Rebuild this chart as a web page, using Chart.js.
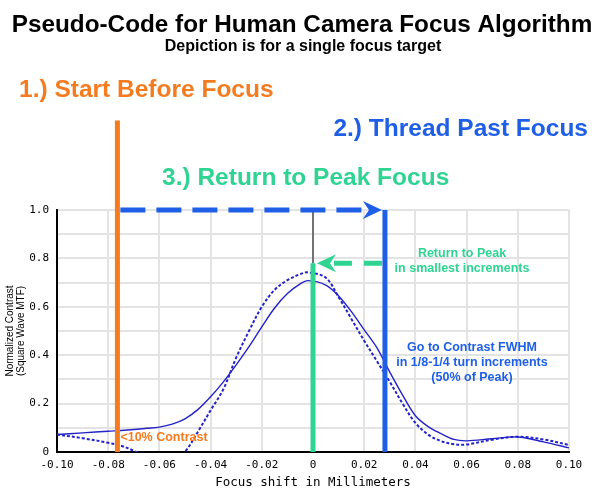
<!DOCTYPE html>
<html>
<head>
<meta charset="utf-8">
<title>Pseudo-Code for Human Camera Focus Algorithm</title>
<script src="https://cdn.jsdelivr.net/npm/chart.js@4.4.1/dist/chart.umd.min.js"></script>
<style>
  body { margin: 0; background: #fff; }
  #wrap { width: 600px; height: 500px; }
</style>
</head>
<body>
<div id="wrap"><canvas id="focusChart" width="600" height="500"></canvas></div>
<script>
// focus shift (mm) where both MTF curves are sampled
const focusShift = [-0.10, -0.09, -0.08, -0.075, -0.07, -0.065, -0.06, -0.055, -0.05, -0.045, -0.04, -0.035, -0.03,
  -0.025, -0.02, -0.015, -0.01, -0.005, -0.002, 0.005, 0.01, 0.015, 0.02, 0.025, 0.03, 0.035, 0.04,
  0.045, 0.05, 0.055, 0.06, 0.07, 0.08, 0.09, 0.10];

// solid curve
const contrastSolid = [0.072, 0.079, 0.086, 0.089, 0.093, 0.098, 0.103, 0.115, 0.137, 0.175, 0.228, 0.29, 0.36,
  0.435, 0.517, 0.595, 0.655, 0.695, 0.708, 0.69, 0.645, 0.58, 0.505, 0.43, 0.33, 0.235, 0.15,
  0.105, 0.076, 0.052, 0.046, 0.055, 0.062, 0.042, 0.017];

// dotted curve (dips under zero, clipped by the axis)
const contrastDotted = [0.072, 0.057, 0.038, 0.026, 0.005, -0.02, -0.035, -0.03, 0.002, 0.083, 0.172, 0.26, 0.39,
  0.50, 0.60, 0.67, 0.71, 0.735, 0.742, 0.72, 0.64, 0.55, 0.46, 0.375, 0.29, 0.2, 0.12,
  0.072, 0.045, 0.032, 0.031, 0.051, 0.063, 0.052, 0.029];

const xTicks = [-0.10, -0.08, -0.06, -0.04, -0.02, 0, 0.02, 0.04, 0.06, 0.08, 0.10];
const xTickLabels = ['-0.10', '-0.08', '-0.06', '-0.04', '-0.02', '0', '0.02', '0.04', '0.06', '0.08', '0.10'];
const yTicks = [0, 0.1, 0.2, 0.3, 0.4, 0.5, 0.6, 0.7, 0.8, 0.9, 1.0];
const yTickLabels = ['0', '', '0.2', '', '0.4', '', '0.6', '', '0.8', '', '1.0'];

// where the three steps sit (data units)
const startFocus = -0.0764;
const pastFocus = 0.0281;
const peakFocus = 0;
const returnLevel = 0.78;
const topLevel = 1.0;
const startLineTop = 1.37;

const orange = '#f47b20';
const blue = '#1f5fe8';
const green = '#2fd392';
const curveBlue = '#2323c8';
const sansFont = '"Liberation Sans", Arial, sans-serif';

function drawLine(ctx, x1, y1, x2, y2, color, width) {
  ctx.save();
  ctx.strokeStyle = color;
  ctx.lineWidth = width;
  ctx.beginPath();
  ctx.moveTo(x1, y1);
  ctx.lineTo(x2, y2);
  ctx.stroke();
  ctx.restore();
}

function dashedArrow(ctx, from, tip, yPos, color, dash) {
  const dir = tip > from ? 1 : -1;
  ctx.save();
  ctx.strokeStyle = color;
  ctx.fillStyle = color;
  ctx.lineWidth = 5;
  ctx.setLineDash(dash);
  ctx.beginPath();
  ctx.moveTo(from, yPos);
  ctx.lineTo(tip - dir * 16, yPos);
  ctx.stroke();
  ctx.setLineDash([]);
  ctx.beginPath();
  ctx.moveTo(tip, yPos);
  ctx.lineTo(tip - dir * 19, yPos - 9);
  ctx.lineTo(tip - dir * 13, yPos);
  ctx.lineTo(tip - dir * 19, yPos + 9);
  ctx.closePath();
  ctx.fill();
  ctx.restore();
}

function noteText(ctx, lines, cx, cy, color, align) {
  ctx.save();
  ctx.fillStyle = color;
  ctx.font = 'bold 12.5px ' + sansFont;
  ctx.textAlign = align;
  ctx.textBaseline = 'middle';
  lines.forEach((t, i) => ctx.fillText(t, cx, cy + i * 15));
  ctx.restore();
}

const focusSteps = {
  id: 'focusSteps',
  afterDatasetsDraw(chart) {
    const { ctx, scales: { x, y } } = chart;
    const xStart = x.getPixelForValue(startFocus);
    const xPast = x.getPixelForValue(pastFocus);
    const xPeak = x.getPixelForValue(peakFocus);
    const yTop = y.getPixelForValue(topLevel);
    const yReturn = y.getPixelForValue(returnLevel);
    const yZero = y.getPixelForValue(0);

    // thin marker above the peak
    drawLine(ctx, xPeak, yTop, xPeak, yReturn, '#000', 1);

    // 1.) start before focus
    drawLine(ctx, xStart, y.getPixelForValue(startLineTop), xStart, yZero, orange, 5);
    // 2.) thread past focus
    drawLine(ctx, xPast, yTop, xPast, yZero, blue, 5);
    dashedArrow(ctx, xStart + 3, xPast - 3, yTop, blue, [25, 11]);
    // 3.) back to the peak
    drawLine(ctx, xPeak, yReturn, xPeak, yZero, green, 5);
    dashedArrow(ctx, xPast - 3, xPeak + 4, yReturn, green, [18, 12]);

    noteText(ctx, ['Return to Peak', 'in smallest increments'],
      x.getPixelForValue(0.0582), y.getPixelForValue(0.822), green, 'center');
    noteText(ctx, ['Go to Contrast FWHM', 'in 1/8-1/4 turn increments', '(50% of Peak)'],
      x.getPixelForValue(0.0621), y.getPixelForValue(0.433), blue, 'center');
    noteText(ctx, ['<10% Contrast'], xStart + 3, y.getPixelForValue(0.061), orange, 'left');
  },
  afterDraw(chart) {
    const ctx = chart.ctx;
    const mid = chart.width / 2;
    ctx.save();
    ctx.textBaseline = 'middle';
    ctx.fillStyle = '#000';
    ctx.textAlign = 'center';
    ctx.font = 'bold 24.3px ' + sansFont;
    ctx.fillText('Pseudo-Code for Human Camera Focus Algorithm', mid + 2, 25);
    ctx.font = 'bold 16px ' + sansFont;
    ctx.fillText('Depiction is for a single focus target', mid + 3, 47);

    ctx.font = 'bold 24.5px ' + sansFont;
    ctx.fillStyle = orange;
    ctx.textAlign = 'left';
    ctx.fillText('1.) Start Before Focus', 19, 90);
    ctx.fillStyle = blue;
    ctx.textAlign = 'right';
    ctx.fillText('2.) Thread Past Focus', 588, 129);
    ctx.fillStyle = green;
    ctx.textAlign = 'left';
    ctx.fillText('3.) Return to Peak Focus', 162, 178);
    ctx.restore();
  }
};

const tickFont = { family: '"DejaVu Sans Mono", monospace', size: 11 };

new Chart(document.getElementById('focusChart'), {
  type: 'line',
  data: {
    datasets: [
      {
        label: 'Contrast',
        data: focusShift.map((f, i) => ({ x: f, y: contrastSolid[i] })),
        borderColor: curveBlue,
        borderWidth: 1.4,
        pointRadius: 0,
        tension: 0.35
      },
      {
        label: 'Contrast (dotted)',
        data: focusShift.map((f, i) => ({ x: f, y: contrastDotted[i] })),
        borderColor: curveBlue,
        borderWidth: 2,
        borderDash: [3, 2],
        pointRadius: 0,
        tension: 0.35
      }
    ]
  },
  options: {
    responsive: false,
    animation: false,
    layout: { padding: { left: 0, right: 31, top: 210, bottom: 0 } },
    plugins: {
      legend: { display: false },
      tooltip: { enabled: false }
    },
    scales: {
      x: {
        type: 'linear',
        min: -0.10,
        max: 0.10,
        afterBuildTicks: (scale) => { scale.ticks = xTicks.map(v => ({ value: v })); },
        afterFit: (scale) => { scale.height = 48; },
        ticks: {
          callback: (value, index) => xTickLabels[index],
          color: '#000',
          font: tickFont,
          padding: 7,
          maxRotation: 0,
          autoSkip: false
        },
        grid: { color: '#e3e3e3', lineWidth: 2, drawTicks: false },
        border: { color: '#000', width: 2 },
        title: {
          display: true,
          text: 'Focus shift in Millimeters',
          color: '#000',
          font: { family: '"DejaVu Sans Mono", monospace', size: 12.5 },
          padding: { top: 0, bottom: 10 }
        }
      },
      y: {
        min: 0,
        max: 1.0,
        afterBuildTicks: (scale) => { scale.ticks = yTicks.map(v => ({ value: v })); },
        afterFit: (scale) => { scale.width = 57; },
        ticks: {
          callback: (value, index) => yTickLabels[index],
          color: '#000',
          font: tickFont,
          padding: 8,
          autoSkip: false
        },
        grid: { color: '#e3e3e3', lineWidth: 2, drawTicks: false },
        border: { color: '#000', width: 2 },
        title: {
          display: true,
          text: ['Normalized Contrast', '(Square Wave MTF)'],
          color: '#000',
          font: { family: sansFont, size: 10, lineHeight: 1.1 },
          padding: { top: 5, bottom: 0 }
        }
      }
    }
  },
  plugins: [focusSteps]
});
</script>
</body>
</html>
